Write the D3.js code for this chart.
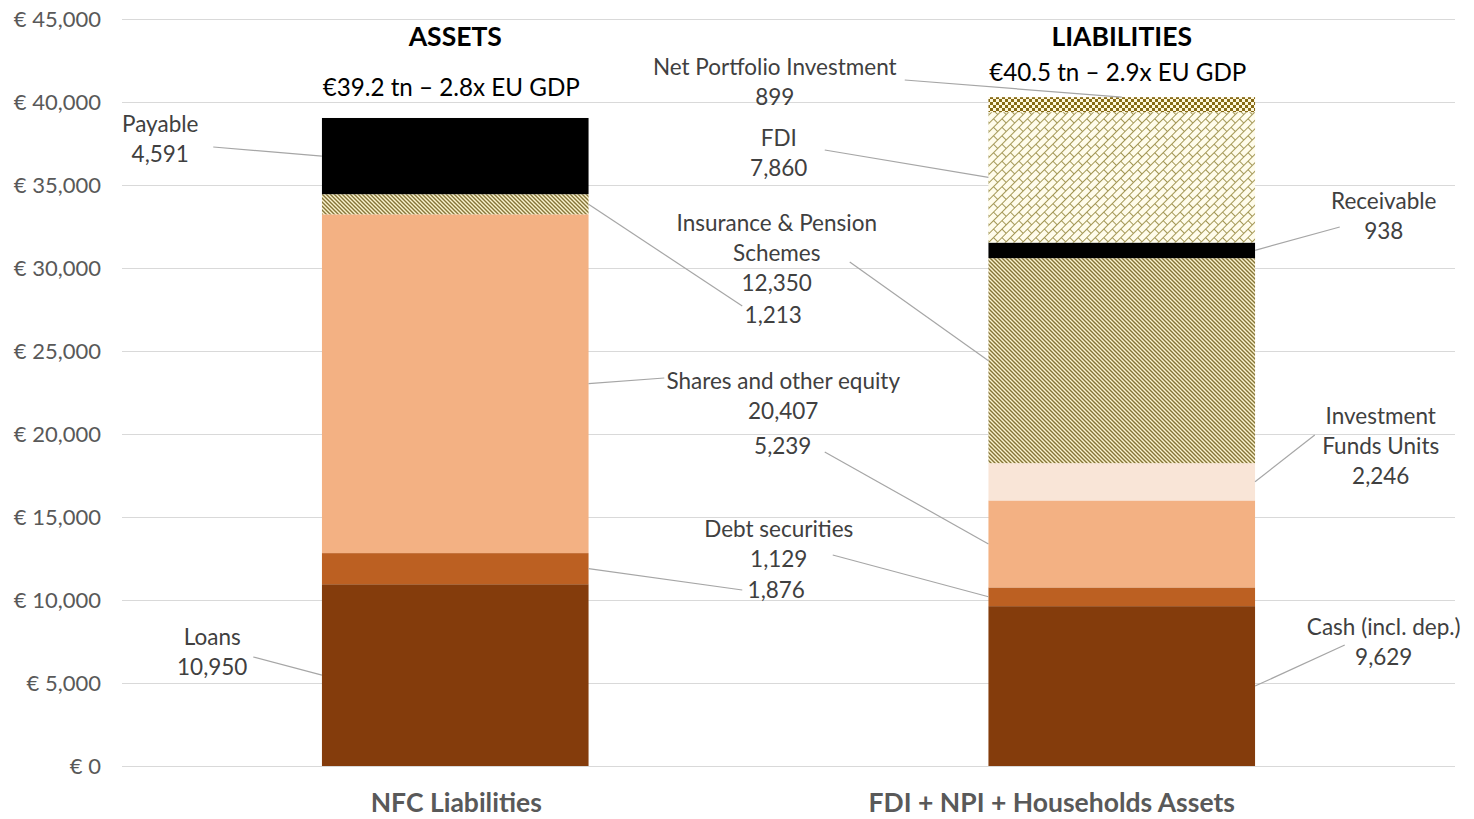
<!DOCTYPE html>
<html><head><meta charset="utf-8">
<script src="https://cdn.jsdelivr.net/npm/d3@7"></script>
<style>
html,body{margin:0;padding:0;background:#fff;}
svg{display:block;font-family:Lato,"Open Sans",sans-serif;}
</style></head>
<body>
<svg id="chart" width="1474" height="819"></svg>
<script>
// ---------- DATA ----------
const categories = ["NFC Liabilities", "FDI + NPI + Households Assets"];
const seriesKeys = ["loansCash", "debt", "shares", "funds", "insurance", "payRec", "fdi", "npi"];
const loansCash  = [10950, 9629];
const debt       = [1876, 1129];
const shares     = [20407, 5239];
const funds      = [0, 2246];
const insurance  = [1213, 12350];
const payRec     = [4591, 938];
const fdi        = [0, 7860];
const npi        = [0, 899];
const titles     = ["ASSETS", "LIABILITIES"];
const subtitles  = ["€39.2 tn – 2.8x EU GDP", "€40.5 tn – 2.9x EU GDP"];
const yTicks     = [0, 5000, 10000, 15000, 20000, 25000, 30000, 35000, 40000, 45000];
const labelNames = {
  "0|payRec": ["Payable"], "0|loansCash": ["Loans"], "0|insurance": [], "0|shares": ["Shares and other equity"], "0|debt": [],
  "1|npi": ["Net Portfolio Investment"], "1|fdi": ["FDI"], "1|insurance": ["Insurance & Pension", "Schemes"],
  "1|payRec": ["Receivable"], "1|funds": ["Investment", "Funds Units"], "1|shares": [], "1|debt": ["Debt securities"],
  "1|loansCash": ["Cash (incl. dep.)"]
};

// ---------- LAYOUT / STYLE ----------
const W = 1474, H = 819;
const plot = {left: 122, right: 1455, top: 19, bottom: 766};
const catLabelDx = [1, -70];
const labelLayout = [
  {i:0, k:"payRec",    dx:-295, v:38675, lx:53,  ly:23, side:"left"},
  {i:0, k:"loansCash", dx:-243, v:7771,  lx:41,  ly:20, side:"left"},
  {i:0, k:"insurance", dx:318,  v:27169, lx:-31, ly:-9, side:"right"},
  {i:0, k:"shares",    dx:328,  v:23193, lx:-119,ly:-3, side:"right"},
  {i:0, k:"debt",      dx:321,  v:10602, lx:-34, ly:0,  side:"right"},
  {i:1, k:"npi",       dx:-347, v:42108, lx:130, ly:13, side:"top"},
  {i:1, k:"fdi",       dx:-343, v:37831, lx:46,  ly:12, side:"left"},
  {i:1, k:"insurance", dx:-345, v:32711, lx:73,  ly:39, side:"left"},
  {i:1, k:"payRec",    dx:262,  v:34036, lx:-44, ly:26, side:"right"},
  {i:1, k:"funds",     dx:259,  v:21084, lx:-66, ly:19, side:"right"},
  {i:1, k:"shares",    dx:-339, v:19277, lx:42,  ly:6,  side:"left"},
  {i:1, k:"debt",      dx:-343, v:14277, lx:54,  ly:26, side:"left"},
  {i:1, k:"loansCash", dx:262,  v:8373,  lx:-39, ly:18, side:"right"}
];
const fills = {
  loansCash: "#843C0C", debt: "#BC6022", shares: "#F3B183", funds: "#F9E5D7",
  insurance: "url(#pInsurance)", payRec: "#000000", fdi: "url(#pFdi)", npi: "url(#pNpi)"
};

const seriesData = {loansCash, debt, shares, funds, insurance, payRec, fdi, npi};
const rows = categories.map((c, i) => {
  const r = {cat: c};
  seriesKeys.forEach(k => r[k] = seriesData[k][i]);
  return r;
});

const svg = d3.select("#chart");
svg.append("rect").attr("width", W).attr("height", H).attr("fill", "#fff");

// patterns
const defs = svg.append("defs");
const pIns = defs.append("pattern").attr("id", "pInsurance").attr("patternUnits", "userSpaceOnUse")
  .attr("width", 4).attr("height", 4);
pIns.append("rect").attr("width", 4).attr("height", 4).attr("fill", "#FBF3CF");
pIns.append("path").attr("d", "M-1,-1L5,5M-1,3L1,5M3,-1L5,1").attr("stroke", "#857437").attr("stroke-width", 1.4);

const pFdi = defs.append("pattern").attr("id", "pFdi").attr("patternUnits", "userSpaceOnUse")
  .attr("width", 12).attr("height", 12).attr("patternTransform", "rotate(-45)");
pFdi.append("rect").attr("width", 12).attr("height", 12).attr("fill", "#FFFCEB");
pFdi.append("path").attr("d", "M0,0.5H12M0,6.5H12M0.5,0.5V6.5M6.5,6.5V12.5")
  .attr("stroke", "#A39755").attr("stroke-width", 1).attr("fill", "none");

const pNpi = defs.append("pattern").attr("id", "pNpi").attr("patternUnits", "userSpaceOnUse")
  .attr("width", 6).attr("height", 6);
pNpi.append("rect").attr("width", 6).attr("height", 6).attr("fill", "#FFF8DE");
pNpi.append("rect").attr("width", 3).attr("height", 3).attr("fill", "#866A16");
pNpi.append("rect").attr("x", 3).attr("y", 3).attr("width", 3).attr("height", 3).attr("fill", "#866A16");

// scales
const x = d3.scaleBand().domain(categories).range([plot.left, plot.right]).paddingInner(0.6).paddingOuter(0.3);
const y = d3.scaleLinear().domain([0, 45000]).range([plot.bottom, plot.top]);

// gridlines
svg.append("g").selectAll("line").data(yTicks).join("line")
  .attr("x1", plot.left).attr("x2", plot.right)
  .attr("y1", d => Math.round(y(d)) + 0.5).attr("y2", d => Math.round(y(d)) + 0.5)
  .attr("stroke", "#D9D9D9").attr("stroke-width", 1);

// y axis
const yAxis = d3.axisLeft(y).tickValues(yTicks).tickSize(0).tickPadding(0)
  .tickFormat(d => "€ " + d3.format(",")(d));
const gy = svg.append("g").attr("transform", `translate(101,0)`).call(yAxis);
gy.select(".domain").remove();
gy.selectAll("text").attr("fill", "#595959").style("font-size", "22px").style("font-family", "Lato, sans-serif");

// stacked bars
const stack = d3.stack().keys(seriesKeys);
const stacked = stack(rows);
svg.append("g").selectAll("g").data(stacked).join("g")
  .attr("fill", d => fills[d.key])
  .selectAll("rect").data(d => d.filter(s => s[1] - s[0] > 0)).join("rect")
  .attr("x", d => x(d.data.cat))
  .attr("width", x.bandwidth())
  .attr("y", d => y(d[1]))
  .attr("height", d => y(d[0]) - y(d[1]));

// category labels
svg.append("g").selectAll("text").data(categories).join("text")
  .attr("x", (d, i) => x(d) + x.bandwidth() / 2 + catLabelDx[i]).attr("y", 803).attr("dy", "0.35em")
  .attr("text-anchor", "middle").attr("fill", "#595959")
  .style("font-size", "26.5px").style("font-weight", "bold").text(d => d);

// titles
svg.append("g").selectAll("text").data(titles).join("text")
  .attr("x", (d, i) => x(categories[i]) + x.bandwidth() / 2).attr("y", 37).attr("dy", "0.35em")
  .attr("text-anchor", "middle").attr("fill", "#000")
  .style("font-size", "26.5px").style("font-weight", "bold").text(d => d);
const subY = [88, 73];
svg.append("g").selectAll("text").data(subtitles).join("text")
  .attr("x", (d, i) => x(categories[i]) + x.bandwidth() / 2 - 4).attr("y", (d, i) => subY[i]).attr("dy", "0.35em")
  .attr("text-anchor", "middle").attr("fill", "#000")
  .style("font-size", "24.2px").text(d => d);

// data labels with leader lines
const segOf = (i, k) => stacked.find(s => s.key === k)[i];
const gl = svg.append("g");
labelLayout.forEach(L => {
  const seg = segOf(L.i, L.k);
  const cx = x(categories[L.i]) + x.bandwidth() / 2;
  const ax = cx + L.dx, ay = y(L.v);
  const lines = (labelNames[L.i + "|" + L.k] || []).concat([d3.format(",")(seriesData[L.k][L.i])]);
  let ex, ey;
  if (L.side === "left") { ex = x(categories[L.i]); ey = y((seg[0] + seg[1]) / 2); }
  else if (L.side === "right") { ex = x(categories[L.i]) + x.bandwidth(); ey = y((seg[0] + seg[1]) / 2); }
  else { ex = cx; ey = y(seg[1]); }
  gl.append("line").attr("x1", ax + L.lx).attr("y1", ay + L.ly).attr("x2", ex).attr("y2", ey)
    .attr("stroke", "#A6A6A6").attr("stroke-width", 1.2);
  const t = gl.append("text").attr("text-anchor", "middle").attr("fill", "#404040").style("font-size", "22.5px");
  lines.forEach((s, j) => t.append("tspan").attr("x", ax).attr("y", ay + j * 30).attr("dy", "0.35em").text(s));
});
</script>
</body></html>
